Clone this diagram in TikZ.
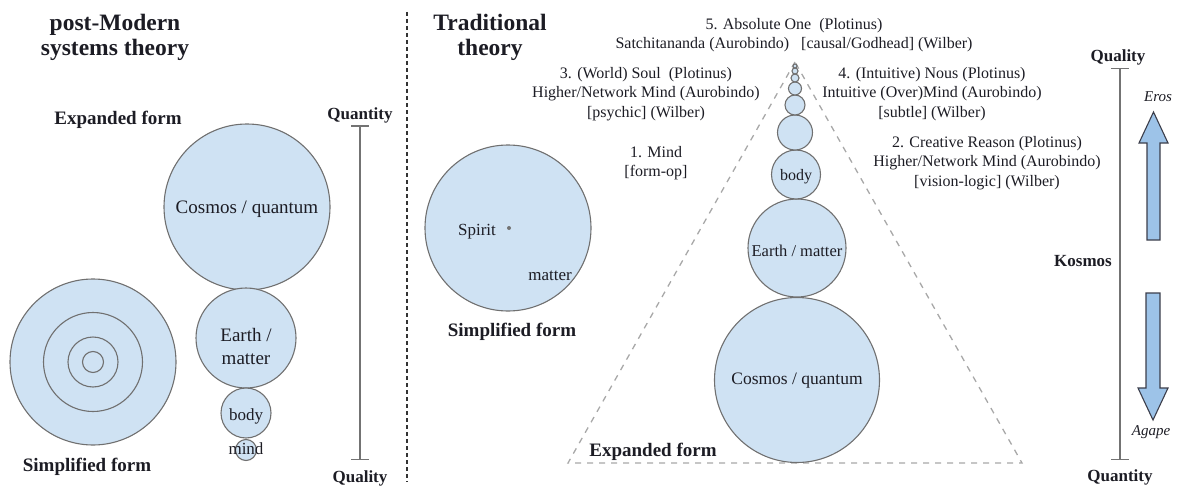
\documentclass[tikz,border=0pt]{standalone}
\usepackage{fontspec}
\setmainfont{Liberation Serif}
\usetikzlibrary{arrows.meta}
\definecolor{bubfill}{RGB}{207,226,243}
\definecolor{bubline}{RGB}{112,112,112}
\definecolor{arrfill}{RGB}{157,195,232}
\definecolor{arrline}{RGB}{60,62,75}
\definecolor{txt}{RGB}{28,28,36}
\definecolor{trigray}{RGB}{168,168,168}
\definecolor{scalegray}{RGB}{115,115,115}
\tikzset{
  bub/.style={circle, draw=bubline, fill=bubfill, line width=1.1pt, inner sep=0pt, minimum size=#1},
  ring/.style={circle, draw=bubline, line width=1.1pt, inner sep=0pt, minimum size=#1},
  lbl/.style={font=\fontsize{16}{19.5}\selectfont, align=center, inner sep=0pt, text=txt},
  mid/.style={font=\fontsize{17}{20}\selectfont, align=center, inner sep=0pt, text=txt},
  big/.style={font=\fontsize{19}{23}\selectfont, align=center, inner sep=0pt, text=txt},
  ttl/.style={font=\fontsize{23.5}{25}\selectfont\bfseries, align=center, inner sep=0pt, text=txt},
  hd/.style={font=\fontsize{19}{22}\selectfont\bfseries, inner sep=0pt, text=txt},
  sc/.style={font=\fontsize{17}{20}\selectfont\bfseries, inner sep=0pt, text=txt},
  ita/.style={font=\fontsize{15}{18}\selectfont\itshape, inner sep=0pt, text=txt},
  scaleline/.style={draw=scalegray, line width=1.5pt, {Bar[width=18pt]}-{Bar[width=18pt]}},
  divider/.style={draw=black!80, line width=1.6pt, dash pattern=on 4pt off 3pt},
  tri/.style={draw=trigray, line width=1.3pt, dash pattern=on 6pt off 6pt},
  blockarrow/.style={draw=arrline, fill=arrfill, line width=1.1pt, line join=miter},
}
\begin{document}
\begin{tikzpicture}[x=1pt,y=-1pt]
\useasboundingbox (0,0) rectangle (1181,487);

% divider
\coordinate (divT) at (407,12);
\coordinate (divB) at (407,482);
\draw[divider] (divT) -- (divB);

% ---------------- left panel ----------------
\node[ttl] (t1) at (115,37) {post-Modern\\systems theory};
\node[hd] (exp1) at (118,120) {Expanded form};
\node[sc] (qn1) at (360,115) {Quantity};
\node[sc] (ql1) at (360,478) {Quality};
\coordinate (s1t) at (360,125);
\coordinate (s1b) at (360,460);
\draw[scaleline] (s1t) -- (s1b);

\node[bub=166pt] (cos1) at (247,207) {};
\node[bub=100pt] (ear1) at (246,338) {};
\node[bub=50pt] (bod1) at (246,413) {};
\node[bub=21pt] (min1) at (246,450) {};
\node[big] (cos1t) at (247,209) {Cosmos / quantum};
\node[big] (ear1t) at (246,346) {Earth /\\matter};
\node[mid] (bod1t) at (246,416) {body};
\node[mid] (min1t) at (246,449) {mind};

\node[bub=166pt] (sc1) at (93,362) {};
\node[ring=99pt] (sc2) at (93,362) {};
\node[ring=50pt] (sc3) at (93,362) {};
\node[ring=21pt] (sc4) at (93,362) {};
\node[hd] (simp1) at (87,467) {Simplified form};

% ---------------- right panel ----------------
\node[ttl] (t2) at (490,37) {Traditional\\theory};

\node[bub=166pt] (spirit) at (508,228) {};
\node[mid] (spt) at (477,232) {Spirit};
\node[circle, fill=scalegray, inner sep=0pt, minimum size=4pt] (dot) at (509,228) {};
\node[mid] (mat) at (550,276) {matter};
\node[hd] (simp2) at (512,332) {Simplified form};

% triangle
\coordinate (apex) at (795,62);
\coordinate (bl) at (568,463);
\coordinate (br) at (1022,463);
\draw[tri] (apex) -- (bl) -- (br) -- cycle;
\node[hd] (exp2) at (653,452) {Expanded form};

% stack
\node[bub=165pt] (cos2) at (797,380) {};
\node[bub=98pt] (ear2) at (797,248) {};
\node[bub=49pt] (bod2) at (796,174.5) {};
\node[bub=35pt] (c4) at (795,132.5) {};
\node[bub=20pt] (c5) at (795,105) {};
\node[bub=13pt] (c6) at (795,88.5) {};
\node[bub=8pt] (c7) at (795,78) {};
\node[bub=6pt] (c8) at (795,71) {};
\node[bub=4pt] (c9) at (795,66) {};
\node[mid, font=\fontsize{17.5}{20}\selectfont] (cos2t) at (797,381) {Cosmos / quantum};
\node[lbl, font=\fontsize{16.5}{20}\selectfont] (ear2t) at (797,251) {Earth / matter};
\node[lbl] (bod2t) at (796,177) {body};

% level labels
\node[lbl] (l5) at (794,35) {5. Absolute One~~(Plotinus)\\Satchitananda (Aurobindo)~~~[causal/Godhead] (Wilber)};
\node[lbl] (l3) at (646,94) {3. (World) Soul~~(Plotinus)\\Higher/Network Mind (Aurobindo)\\{[psychic]} (Wilber)};
\node[lbl] (l1) at (656,163) {1. Mind\\{[form-op]}};
\node[lbl] (l4) at (932,94) {4. (Intuitive) Nous (Plotinus)\\Intuitive (Over)Mind (Aurobindo)\\{[subtle]} (Wilber)};
\node[lbl] (l2) at (987,163) {2. Creative Reason (Plotinus)\\Higher/Network Mind (Aurobindo)\\{[vision-logic]} (Wilber)};

% right scale
\node[sc] (ql2) at (1118,57) {Quality};
\node[sc] (qn2) at (1120,477) {Quantity};
\node[sc] (kos) at (1083,261) {Kosmos};
\coordinate (s2t) at (1120,68);
\coordinate (s2b) at (1120,460);
\draw[scaleline] (s2t) -- (s2b);

% block arrows
\node[ita] (eros) at (1158,97) {Eros};
\node[ita] (agape) at (1151,432) {Agape};
\draw[blockarrow] (1147,240) -- (1147,143) -- (1139,143) -- (1153.5,112) -- (1168,143) -- (1160,143) -- (1160,240) -- cycle;
\draw[blockarrow] (1146,293) -- (1160,293) -- (1160,388) -- (1168,388) -- (1153,420) -- (1138,388) -- (1146,388) -- cycle;
\end{tikzpicture}
\end{document}
